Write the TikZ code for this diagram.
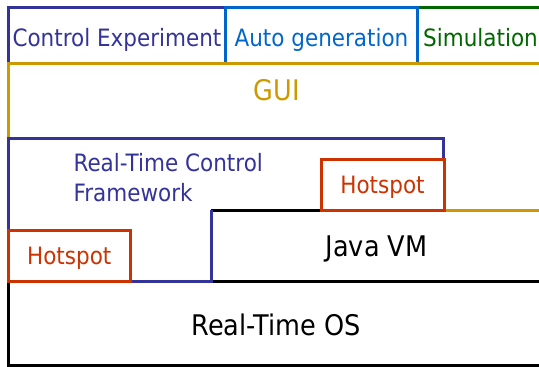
\documentclass[tikz,border=0pt]{standalone}
\usepackage{fontspec}
\setmainfont{DejaVu Sans}[FakeStretch=0.9]
\definecolor{cedark}{HTML}{333399}
\definecolor{autoblue}{HTML}{0066CC}
\definecolor{simgreen}{HTML}{006600}
\definecolor{guigold}{HTML}{CC9900}
\definecolor{hotred}{HTML}{CC3300}
\begin{document}
\begin{tikzpicture}[x=1pt,y=-1pt,line width=3pt,line join=miter]
\tikzset{
  lbl/.style={inner sep=0pt,anchor=base,font=\fontsize{23.9}{28}\selectfont},
  biglbl/.style={inner sep=0pt,anchor=base,font=\fontsize{28.4}{32}\selectfont},
  hotbox/.style={draw=hotred,fill=white,text=hotred,inner sep=0pt,
    minimum height=51pt,text height=17.4pt,text depth=0pt,
    font=\fontsize{23.9}{28}\selectfont}
}
\useasboundingbox (0,0) rectangle (539,367);
\clip (0,0) rectangle (539,367);

% layer boundaries
\coordinate (tl) at (8.5,7);
\coordinate (ceR) at (225.5,7);
\coordinate (agR) at (417.5,7);
\coordinate (far) at (560,7);

% top row: Simulation, Auto generation, Control Experiment
\draw[simgreen] (agR) -- (far);
\draw[cedark] (8.5,63) -- (tl) -- (ceR);
\draw[autoblue] (225.5,63) -- (ceR) -- (agR) -- (417.5,63);

% GUI layer
\draw[guigold] (8.5,138) -- (8.5,63) -- (560,63);
\draw[guigold] (444,210) -- (560,210);

% Java VM and Real-Time OS
\draw[black] (211,210) -- (321,210);
\draw[black] (211,281) -- (560,281);
\draw[black] (8.5,281) -- (8.5,365.5) -- (560,365.5);

% Real-Time Control Framework outline
\draw[cedark] (8.5,230) -- (8.5,138) -- (443,138) -- (443,159);
\draw[cedark] (130,281) -- (211,281) -- (211,210);

% hotspots
\node[hotbox,minimum width=121.5pt] (hsl) at (69.25,255.5) {Hotspot};
\node[hotbox,minimum width=123pt] (hsr) at (382.5,184.5) {Hotspot};

% labels
\node[lbl,text=cedark] (ce) at (117,46) {Control Experiment};
\node[lbl,text=autoblue] (ag) at (321.5,46) {Auto generation};
\node[lbl,text=simgreen] (sim) at (480.5,46) {Simulation};
\node[biglbl,text=guigold] (gui) at (277,100) {GUI};
\node[lbl,text=cedark,anchor=base west] (rtc1) at (72,171) {Real-Time Control};
\node[lbl,text=cedark,anchor=base west] (rtc2) at (72,201) {Framework};
\node[biglbl] (jvm) at (376.5,256.5) {Java VM};
\node[biglbl] (rtos) at (276,335) {Real-Time OS};
\end{tikzpicture}
\end{document}
